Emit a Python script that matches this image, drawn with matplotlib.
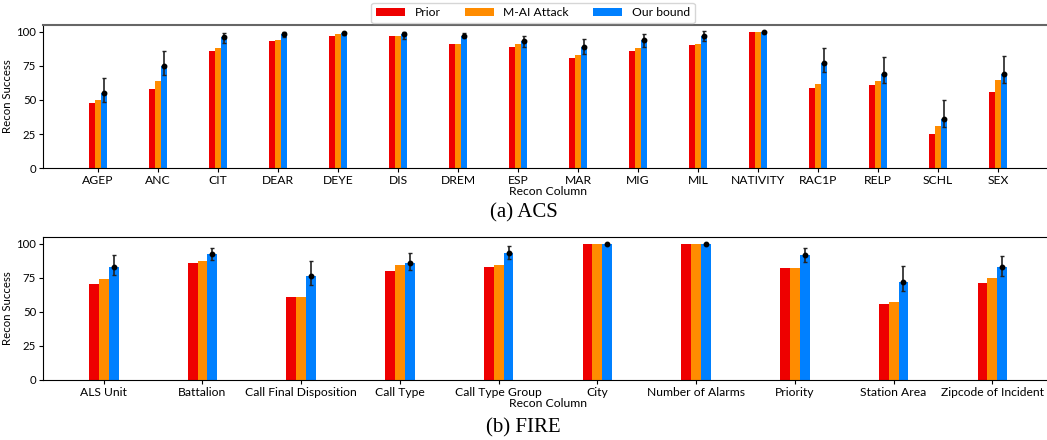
import numpy as np
import matplotlib
matplotlib.use("Agg")
import matplotlib.pyplot as plt

plt.rcParams["font.family"] = ["Lato", "DejaVu Sans"]

# ACS data
acs_cols = ["AGEP", "ANC", "CIT", "DEAR", "DEYE", "DIS", "DREM", "ESP", "MAR",
            "MIG", "MIL", "NATIVITY", "RAC1P", "RELP", "SCHL", "SEX"]
acs_prior = [47.8, 58.0, 85.9, 93.2, 96.8, 96.8, 91.0, 88.8, 81.0,
             85.9, 90.5, 99.8, 58.8, 61.0, 25.1, 55.9]
acs_mai = [50.0, 63.9, 88.0, 93.9, 98.3, 96.8, 91.0, 91.2, 82.9,
           88.0, 91.2, 99.8, 61.7, 63.9, 31.0, 64.6]
acs_bound = [55.1, 74.9, 96.1, 98.5, 99.3, 98.5, 97.0, 93.2, 88.8,
             93.9, 96.8, 100.0, 77.3, 69.0, 36.1, 69.0]
acs_hi = [66.0, 86.3, 99.5, 100.0, 100.0, 100.0, 99.3, 97.3, 95.1,
          98.3, 100.5, 100.0, 88.0, 81.2, 50.2, 82.0]
acs_lo = [48.8, 68.5, 91.7, 95.9, 98.0, 95.0, 95.9, 88.8, 83.7,
          88.8, 93.4, 100.0, 70.7, 62.7, 29.8, 62.7]

# FIRE data
fire_cols = ["ALS Unit", "Battalion", "Call Final Disposition", "Call Type",
             "Call Type Group", "City", "Number of Alarms", "Priority",
             "Station Area", "Zipcode of Incident"]
fire_prior = [70.2, 85.6, 60.7, 79.8, 82.7, 100.0, 100.0, 82.0, 55.6, 71.0]
fire_mai = [73.9, 87.1, 60.7, 84.1, 84.1, 100.0, 100.0, 82.0, 57.1, 74.6]
fire_bound = [82.7, 92.2, 76.1, 85.6, 92.9, 100.0, 100.0, 92.0, 71.7, 82.7]
fire_hi = [92.0, 97.1, 87.3, 93.2, 98.3, 100.0, 100.0, 97.1, 83.4, 91.2]
fire_lo = [76.8, 87.8, 70.0, 80.7, 88.8, 100.0, 100.0, 86.6, 65.4, 76.3]

c_prior = "#ee0000"
c_mai = "#ff8c00"
c_bound = "#0080ff"
w = 0.1

fig = plt.figure(figsize=(10.47, 4.4), dpi=100)
ax1 = fig.add_axes([0.0411, 0.618, 0.9647, 0.325])
ax2 = fig.add_axes([0.0411, 0.1364, 0.9647, 0.325])


def draw(ax, cols, prior, mai, bound, lo, hi):
    x = np.arange(len(cols))
    bound = np.array(bound)
    ax.bar(x - w, prior, w, color=c_prior, label="Prior")
    ax.bar(x, mai, w, color=c_mai, label="M-AI Attack")
    ax.bar(x + w, bound, w, color=c_bound, label="Our bound")
    yerr = [bound - np.array(lo), np.array(hi) - bound]
    ax.errorbar(x + w, bound, yerr=yerr, fmt="o", color="black", ecolor="#222222",
                markersize=3.2, elinewidth=1.2, capsize=1.5, capthick=1)
    ax.set_xticks(x)
    ax.set_xticklabels(cols, fontsize=8.7)
    ax.set_ylim(0, 105)
    ax.set_yticks([0, 25, 50, 75, 100])
    ax.tick_params(axis="y", labelsize=8.2, length=3, pad=2)
    ax.tick_params(axis="x", length=3, pad=2)
    ax.set_ylabel("Recon Success", fontsize=8.2, labelpad=2)
    ax.set_xlabel("Recon Column", fontsize=8.7, labelpad=0)
    ax.spines["right"].set_visible(False)


draw(ax1, acs_cols, acs_prior, acs_mai, acs_bound, acs_lo, acs_hi)
draw(ax2, fire_cols, fire_prior, fire_mai, fire_bound, fire_lo, fire_hi)
ax1.spines["top"].set_color("#666666")
ax1.spines["top"].set_linewidth(1.5)

handles, labels = ax1.get_legend_handles_labels()
fig.legend(handles[:3], labels[:3], loc="upper center", ncol=3, fontsize=8.7,
           bbox_to_anchor=(533 / 1047, 1.008), frameon=True, handlelength=2.4,
           columnspacing=2.0, borderpad=0.4)

fig.text(0.5, 1 - 213 / 440, "(a) ACS", ha="center", va="center",
         fontsize=15, family="Liberation Serif")
fig.text(0.5, 1 - 428 / 440, "(b) FIRE", ha="center", va="center",
         fontsize=15, family="Liberation Serif")

fig.savefig("out.png", dpi=100)
